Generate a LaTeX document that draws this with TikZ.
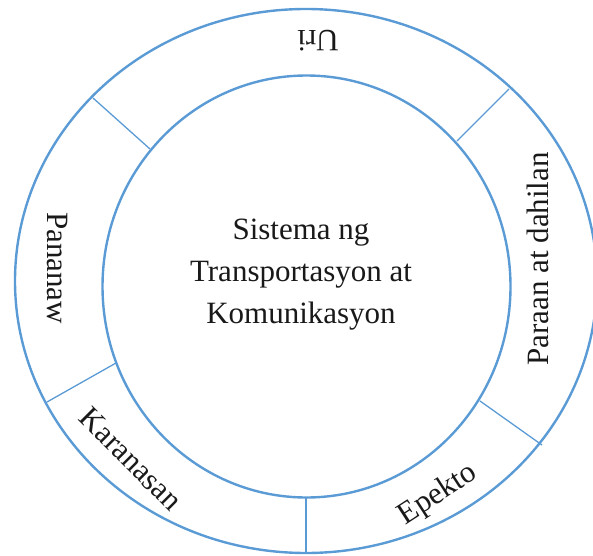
\documentclass[tikz,border=0pt]{standalone}
\usepackage{fontspec}
\setmainfont{Liberation Serif}
\definecolor{ringblue}{RGB}{91,155,213}

\begin{document}
\begin{tikzpicture}[x=1pt,y=1pt,
    ring/.style={draw=ringblue,line width=2.4pt},
    cut/.style={draw=ringblue,line width=1.3pt},
    word/.style={font=\fontsize{31}{42}\selectfont,text=black!90,inner sep=0pt}]
\clip (0,0) rectangle (593,555);
\path [ring] (306,274) ellipse [x radius=291,y radius=272];
\path [ring] (306.5,268.5) ellipse [x radius=204,y radius=211];
\coordinate (cut1out) at (93,457);
\coordinate (cut1in)  at (150,406);
\coordinate (cut2out) at (509,466);
\coordinate (cut2in)  at (457,414);
\coordinate (cut3out) at (542,110);
\coordinate (cut3in)  at (480,154);
\coordinate (cut4out) at (306,1);
\coordinate (cut4in)  at (306,58);
\coordinate (cut5out) at (47,153);
\coordinate (cut5in)  at (116,192);
\path [cut] (cut1out) -- (cut1in);
\path [cut] (cut2out) -- (cut2in);
\path [cut] (cut3out) -- (cut3in);
\path [cut] (cut4out) -- (cut4in);
\path [cut] (cut5out) -- (cut5in);
\node (system)    at (301,280) [word,align=center] {Sistema ng\\Transportasyon at\\Komunikasyon};
\node (uri)       at (318,514) [word,rotate=180] {Uri};
\node (paraan)    at (538,296) [word,rotate=90]  {Paraan at dahilan};
\node (epekto)    at (438,60)  [word,rotate=33]  {Epekto};
\node (karanasan) at (131,96)  [word,rotate=-45] {Karanasan};
\node (pananaw)   at (57,287)  [word,rotate=-90] {Pananaw};
\end{tikzpicture}
\end{document}
